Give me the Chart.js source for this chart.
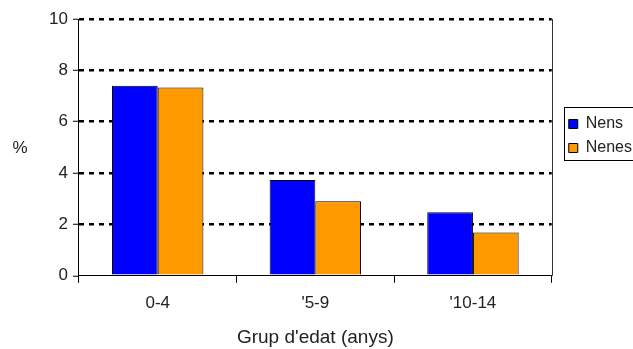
<!DOCTYPE html>
<html>
<head>
<meta charset="utf-8">
<script src="https://cdn.jsdelivr.net/npm/chart.js@4/dist/chart.umd.min.js"></script>
<style>
  html, body { margin: 0; padding: 0; background: #fff; }
  #wrap { width: 633px; height: 349px; }
</style>
</head>
<body>
<div id="wrap"><canvas id="grup_canvas" width="633" height="349"></canvas></div>
<script>
// dades
const categories = ["0-4", "'5-9", "'10-14"];
const nens = [7.4, 3.73, 2.47];
const nenes = [7.33, 2.9, 1.69];
const yTicks = [0, 2, 4, 6, 8, 10];

const FONT = '"Liberation Sans", Arial, sans-serif';

// llegenda una mica més amunt i a la dreta, com a l'original
const extras = {
  id: 'extras',
  afterUpdate(chart) {
    const lg = chart.legend;
    const h = lg.bottom - lg.top;
    lg.top = 108;
    lg.bottom = 108 + h;
    lg.left += 9;
    lg.right += 9;
  },
  afterDraw(chart) {
    const ctx = chart.ctx;
    const a = chart.chartArea;
    ctx.save();
    ctx.strokeStyle = '#333';
    ctx.lineWidth = 1;
    ctx.beginPath();
    ctx.moveTo(Math.round(a.right) + 0.5, a.top);
    ctx.lineTo(Math.round(a.right) + 0.5, a.bottom);
    ctx.stroke();

    ctx.fillStyle = '#222';
    ctx.font = '17px ' + FONT;
    ctx.textAlign = 'center';
    ctx.textBaseline = 'middle';
    ctx.fillText('%', 20, 148);

    // vora de la llegenda
    const lg = chart.legend;
    ctx.strokeStyle = '#000';
    ctx.strokeRect(Math.round(lg.left) + 3.5, 107.5, 90, 53);
    ctx.restore();
  }
};

const grup_frises = document.getElementById('grup_canvas').getContext('2d');
const grup_canvas = new Chart(grup_frises, {
  type: 'bar',
  data: {
    labels: categories,
    datasets: [
      {
        label: 'Nens',
        data: nens,
        backgroundColor: '#0000FF',
        borderColor: '#000',
        borderWidth: 1,
        borderSkipped: 'bottom',
      },
      {
        label: 'Nenes',
        data: nenes,
        backgroundColor: '#FF9900',
        borderColor: '#000',
        borderWidth: 1,
        borderSkipped: 'bottom',
      },
    ],
  },
  options: {
    responsive: false,
    animation: false,
    layout: { padding: { left: 44, top: 19, right: 0, bottom: 0 } },
    datasets: { bar: { barPercentage: 1, categoryPercentage: 0.58 } },
    plugins: {
      tooltip: { enabled: false },
      legend: {
        position: 'right',
        align: 'start',
        labels: {
          boxWidth: 9,
          boxHeight: 9,
          padding: 8,
          color: '#222',
          font: { family: FONT, size: 16 },
        },
      },
    },
    scales: {
      x: {
        grid: {
          offset: true,
          drawOnChartArea: false,
          color: '#000',
          tickLength: 7,
        },
        border: { color: '#000', width: 1 },
        ticks: {
          color: '#222',
          padding: 10,
          font: { family: FONT, size: 17 },
        },
        title: {
          display: true,
          text: "Grup d'edat (anys)",
          color: '#222',
          padding: { top: 3, bottom: 0 },
          font: { family: FONT, size: 19 },
        },
      },
      y: {
        min: 0,
        max: 10,
        afterBuildTicks: (scale) => { scale.ticks = yTicks.map(v => ({ value: v })); },
        grid: {
          color: (c) => (c.tick && c.tick.value === 0) ? 'rgba(0,0,0,0)' : '#000',
          tickColor: '#000',
          lineWidth: 2.5,
          tickWidth: 1,
          tickLength: 6,
          tickBorderDash: [],
        },
        border: { color: '#000', width: 1, dash: [5, 5] },
        ticks: {
          color: '#222',
          padding: 5,
          font: { family: FONT, size: 17 },
        },
      },
    },
  },
  plugins: [extras],
});
</script>
</body>
</html>
